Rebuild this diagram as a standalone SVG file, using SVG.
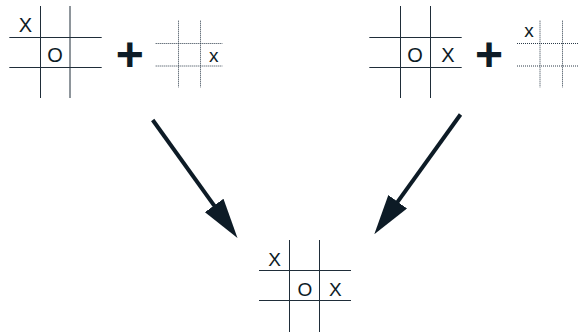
<svg xmlns="http://www.w3.org/2000/svg" width="579" height="332" viewBox="0 0 579 332">
<style>
.g{stroke:#1f2d39;stroke-width:1;fill:none}
.d{stroke:#2c3b49;stroke-width:1;fill:none;stroke-dasharray:1 1}
.t{font-family:"Liberation Sans",Arial,sans-serif;font-size:19px;fill:#0d1b26;text-anchor:middle}
.b{font-size:20px}
.p{font-family:"Liberation Sans",Arial,sans-serif;font-size:48px;font-weight:bold;fill:#0d1b26;text-anchor:middle}
.a{stroke:#0d1b26;stroke-width:4;fill:none}
</style>
<defs>
<marker id="head" markerUnits="userSpaceOnUse" viewBox="0 0 40 23" refX="2" refY="11.5" markerWidth="40" markerHeight="23" orient="auto">
<path d="M0,0 L40,11.5 L0,23 Z" fill="#0d1b26"/>
</marker>
</defs>
<rect width="579" height="332" fill="#ffffff"/>
<g id="board1">
<path class="g" d="M40.5,6V98M70,6V98M9.3,37.5H101.7M9.3,67.5H101.7"/>
<text class="t b" x="25.3" y="32.3">X</text>
<text class="t b" x="55" y="62">O</text>
</g>
<g id="plus1"><text class="p" x="129.8" y="71.3">+</text></g>
<g id="move1">
<path class="d" d="M178.5,20.7V87.3M200.5,20.7V87.3M155.7,43.5H222.3M155.7,66H222.3"/>
<text class="t" x="213.7" y="61.7">x</text>
</g>
<g id="board2">
<path class="g" d="M400.5,6V98M430.5,6V98M369.3,37.5H461.7M369.3,67.5H461.7"/>
<text class="t b" x="415" y="62">O</text>
<text class="t b" x="448" y="62">X</text>
</g>
<g id="plus2"><text class="p" x="489" y="71.3">+</text></g>
<g id="move2">
<path class="d" d="M540,20.7V87.3M562.5,20.7V87.3M517,43.5H579M517,66H579"/>
<text class="t" x="529" y="36.7">x</text>
</g>
<g id="result">
<path class="g" d="M289.5,240V332M319.5,240V332M259,270.5H351M259,300.5H351"/>
<text class="t" x="274.5" y="265.7">X</text>
<text class="t" x="304.8" y="295.6">O</text>
<text class="t" x="335.3" y="295.7">X</text>
</g>
<g id="connectors">
<line class="a" x1="152.7" y1="120" x2="215.3" y2="207.1" marker-end="url(#head)"/>
<line class="a" x1="460.5" y1="114.5" x2="396.5" y2="203.4" marker-end="url(#head)"/>
</g>
</svg>
